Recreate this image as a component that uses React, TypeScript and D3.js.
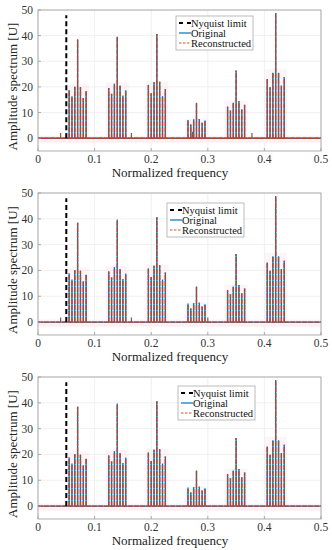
import React from "react";
import * as d3 from "d3";

// spike frequencies (normalized) and amplitudes
const spikeFreqs = [
  0.055, 0.06, 0.065, 0.07, 0.075, 0.08, 0.085,
  0.125, 0.13, 0.135, 0.14, 0.145, 0.15, 0.155,
  0.195, 0.2, 0.205, 0.21, 0.215, 0.22, 0.225,
  0.265, 0.27, 0.275, 0.28, 0.285, 0.29, 0.295,
  0.335, 0.34, 0.345, 0.35, 0.355, 0.36, 0.365,
  0.405, 0.41, 0.415, 0.42, 0.425, 0.43, 0.435,
];
const originalAmp = [
  18.8, 16.4, 20.1, 38.5, 19.9, 15.7, 18.3,
  19.6, 17.3, 21.2, 39.6, 20.5, 16.6, 18.7,
  20.8, 17.5, 21.8, 40.6, 22.0, 16.4, 19.2,
  7.1, 5.3, 7.3, 13.8, 7.5, 6.0, 6.9,
  12.3, 10.8, 13.8, 26.4, 14.4, 11.2, 13.0,
  23.1, 19.9, 25.5, 48.8, 25.5, 20.5, 23.8,
];
// small spurious components that appear only in the reconstructions
const spurFreq1 = [0.04, 0.05, 0.165, 0.273, 0.378];
const spurAmp1 = [2.0, 2.0, 2.0, 2.5, 2.0];
const spurFreq2 = [0.04, 0.165, 0.3];
const spurAmp2 = [1.8, 1.8, 1.8];
const spurFreq3: number[] = [];
const spurAmp3: number[] = [];

const nyquist = 0.05;
const nyquistTop = 48;
const xTicks = [0, 0.1, 0.2, 0.3, 0.4, 0.5];
const yTicks = [0, 10, 20, 30, 40, 50];
const legendLabels = ["Nyquist limit", "Original", "Reconstructed"];

const BLUE = "#0072BD";
const RED = "#B8432E";
const SERIF = "Liberation Serif, Times New Roman, Times, serif";

const panels = [
  { top: 10, bottom: 151, spurF: spurFreq1, spurA: spurAmp1, legend: { x: 176, y: 16, w: 77 } },
  { top: 193, bottom: 335, spurF: spurFreq2, spurA: spurAmp2, legend: { x: 167, y: 203, w: 77 } },
  { top: 377, bottom: 519, spurF: spurFreq3, spurA: spurAmp3, legend: { x: 178, y: 386, w: 77 } },
];

const left = 38;
const right = 321;

function Panel({ p }: { p: (typeof panels)[number] }) {
  const x = d3.scaleLinear().domain([0, 0.5]).range([left, right]);
  const y = d3.scaleLinear().domain([-5, 50]).range([p.bottom, p.top]);
  const y0 = y(0);
  const groups = d3.range(6).map((g) => spikeFreqs.slice(g * 7, g * 7 + 7));
  const groupMax = d3.range(6).map((g) => d3.max(originalAmp.slice(g * 7, g * 7 + 7)) as number);
  const lg = p.legend;
  return (
    <g>
      {/* grid */}
      {xTicks.map((t) => (
        <line key={"gx" + t} x1={x(t)} x2={x(t)} y1={p.top} y2={p.bottom} stroke="#ececec" strokeWidth={0.8} />
      ))}
      {yTicks.map((t) => (
        <line key={"gy" + t} x1={left} x2={right} y1={y(t)} y2={y(t)} stroke="#ececec" strokeWidth={0.8} />
      ))}
      {/* faint pink halo behind the spike groups */}
      {groups.map((g, i) => (
        <rect key={"h" + i} x={x(g[0]) - 3} width={x(g[6]) - x(g[0]) + 6} y={y(groupMax[i] * 0.55)}
          height={y(-1.5) - y(groupMax[i] * 0.55)} fill="#fbe3ea" opacity={0.4} />
      ))}
      <rect x={left} width={right - left} y={y(1)} height={y(-1.8) - y(1)} fill="#fdf0f3" />
      {/* original */}
      <line x1={left} x2={right} y1={y0} y2={y0} stroke={BLUE} strokeWidth={1.4} />
      {spikeFreqs.map((f, i) => (
        <line key={"o" + i} x1={x(f)} x2={x(f)} y1={y0} y2={y(originalAmp[i])} stroke={BLUE} strokeWidth={1.3} />
      ))}
      {/* reconstructed */}
      <line x1={left} x2={right} y1={y0} y2={y0} stroke={RED} strokeWidth={1.4} strokeDasharray="5,1" />
      {spikeFreqs.map((f, i) => (
        <line key={"r" + i} x1={x(f)} x2={x(f)} y1={y0} y2={y(originalAmp[i])} stroke={RED} strokeWidth={1.4}
          strokeDasharray="5,1" />
      ))}
      {p.spurF.map((f, i) => (
        <line key={"s" + i} x1={x(f)} x2={x(f)} y1={y0} y2={y(p.spurA[i])} stroke="#8a5a3a" strokeWidth={1.2} />
      ))}
      {/* nyquist */}
      <line x1={x(nyquist)} x2={x(nyquist)} y1={y0} y2={y(nyquistTop)} stroke="#000" strokeWidth={2}
        strokeDasharray="5,3" />
      {/* axes box */}
      <rect x={left} y={p.top} width={right - left} height={p.bottom - p.top} fill="none" stroke="#9a9a9a"
        strokeWidth={0.8} />
      {yTicks.map((t) => (
        <g key={"ty" + t}>
          <line x1={left} x2={left + 3} y1={y(t)} y2={y(t)} stroke="#9a9a9a" strokeWidth={0.8} />
          <text x={33} y={y(t) + 4} textAnchor="end" fontSize={11.5} fill="#333" fontFamily={SERIF}>{t}</text>
        </g>
      ))}
      {xTicks.map((t) => (
        <g key={"tx" + t}>
          <line x1={x(t)} x2={x(t)} y1={p.bottom} y2={p.bottom - 3} stroke="#9a9a9a" strokeWidth={0.8} />
          <text x={x(t)} y={p.bottom + 12} textAnchor="middle" fontSize={11.5} fill="#333" fontFamily={SERIF}>
            {t}
          </text>
        </g>
      ))}
      <text x={170} y={p.bottom + 26} textAnchor="middle" fontSize={13} fill="#222" fontFamily={SERIF}>
        Normalized frequency
      </text>
      <text transform={`translate(17,${(p.top + p.bottom) / 2 + 6}) rotate(-90)`} textAnchor="middle" fontSize={13}
        fill="#222" fontFamily={SERIF}>
        Amplitude spectrum [U]
      </text>
      {/* legend */}
      <rect x={lg.x} y={lg.y} width={lg.w} height={34} fill="#fff" stroke="#aaa" strokeWidth={0.8} />
      {legendLabels.map((lab, i) => {
        const ly = lg.y + 7 + i * 10;
        return (
          <g key={lab}>
            {i === 0 && (
              <line x1={lg.x + 3} x2={lg.x + 15} y1={ly} y2={ly} stroke="#000" strokeWidth={2} strokeDasharray="4,4" />
            )}
            {i === 1 && <line x1={lg.x + 3} x2={lg.x + 15} y1={ly} y2={ly} stroke={BLUE} strokeWidth={1.2} />}
            {i === 2 && (
              <line x1={lg.x + 3} x2={lg.x + 15} y1={ly} y2={ly} stroke="#D9532F" strokeWidth={1.2}
                strokeDasharray="2.5,1.5" />
            )}
            <text x={lg.x + 15} y={ly + 3.5} fontSize={10.5} fill="#111" fontFamily={SERIF}>{lab}</text>
          </g>
        );
      })}
    </g>
  );
}

export default function App() {
  return (
    <svg width={332} height={550} style={{ position: "absolute", left: 0, top: 0, background: "#fff" }}>
      <rect width={332} height={550} fill="#fff" />
      {panels.map((p, i) => (
        <Panel key={i} p={p} />
      ))}
    </svg>
  );
}
